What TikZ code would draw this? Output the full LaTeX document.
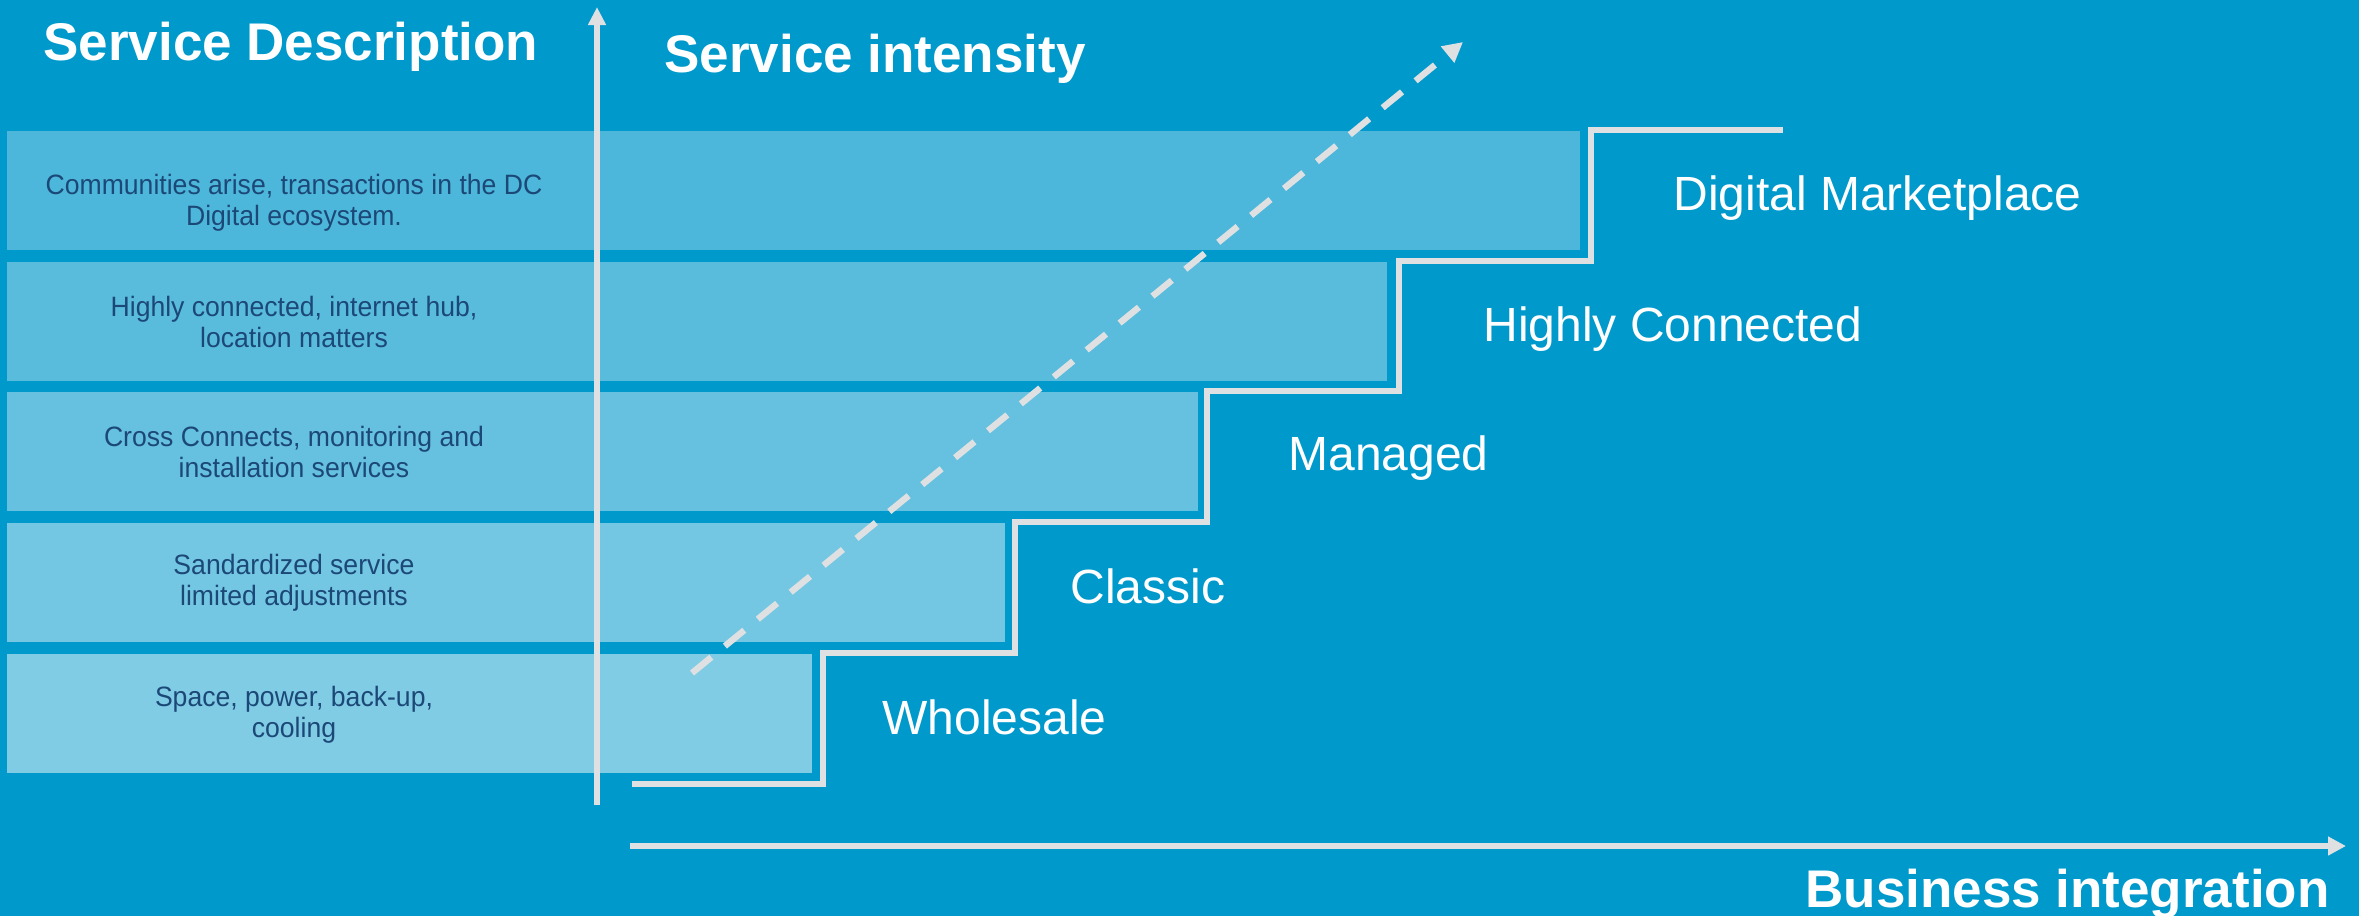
\documentclass[tikz,border=0pt]{standalone}
\usepackage{fontspec}
\setmainfont{Liberation Sans}
\newfontfamily\rowfont[FakeStretch=0.95]{Liberation Sans}
\usetikzlibrary{arrows.meta}
\definecolor{bg}{RGB}{0,153,204}
\definecolor{axisc}{RGB}{222,224,225}
\definecolor{navy}{RGB}{28,72,120}
\begin{document}
\begin{tikzpicture}[x=0.5pt,y=-0.5pt,
  rowbox/.style={fill=white, draw=none, inner sep=0pt, outer sep=0pt, anchor=north west, minimum height=59.5pt},
  desc/.style={font=\rowfont\fontsize{14}{15.5}\selectfont, text=navy, align=center, inner sep=0pt},
  title/.style={font=\bfseries\fontsize{26.5}{30}\selectfont, text=white, anchor=base west, inner sep=0pt},
  lvl/.style={font=\fontsize{24}{28}\selectfont, text=white, anchor=base west, inner sep=0pt},
  stair/.style={draw=axisc, line width=3pt, line join=miter},
  ]
\fill[bg] (0,0) rectangle (2359,916);
\useasboundingbox (0,0) rectangle (2359,916);

% rows
\node[rowbox, fill opacity=0.30, minimum width=786.5pt] (r1) at (7,131) {};
\node[rowbox, fill opacity=0.35, minimum width=690pt] (r2) at (7,262) {};
\node[rowbox, fill opacity=0.40, minimum width=595.5pt] (r3) at (7,392) {};
\node[rowbox, fill opacity=0.45, minimum width=499pt] (r4) at (7,523) {};
\node[rowbox, fill opacity=0.50, minimum width=402.5pt] (r5) at (7,654) {};

\node[desc] (t1) at (294,203) {Communities arise, transactions in the DC\\Digital ecosystem.};
\node[desc] (t2) at (294,322) {Highly connected, internet hub,\\location matters};
\node[desc] (t3) at (294,452) {Cross Connects, monitoring and\\installation services};
\node[desc] (t4) at (294,583) {Sandardized service\\limited adjustments};
\node[desc] (t5) at (294,715) {Space, power, back-up,\\cooling};

% staircase
\coordinate (s0) at (632,784);
\coordinate (s1) at (823,784);
\coordinate (s2) at (823,653);
\coordinate (s3) at (1015,653);
\coordinate (s4) at (1015,522);
\coordinate (s5) at (1207,522);
\coordinate (s6) at (1207,391);
\coordinate (s7) at (1399,391);
\coordinate (s8) at (1399,261);
\coordinate (s9) at (1591,261);
\coordinate (s10) at (1591,130);
\coordinate (s11) at (1783,130);
\draw[stair] (s0) -- (s1) -- (s2) -- (s3) -- (s4) -- (s5) -- (s6) -- (s7) -- (s8) -- (s9) -- (s10) -- (s11);

% axes
\coordinate (vb) at (597,805);
\coordinate (vt) at (597,7);
\draw[axisc, line width=3.2pt, -{Triangle[length=9pt,width=8.5pt]}] (vb) -- (vt);
\coordinate (hl) at (630,846);
\coordinate (hr) at (2346,846);
\draw[axisc, line width=3.2pt, -{Triangle[length=9pt,width=9pt]}] (hl) -- (hr);

% dashed arrow
\coordinate (d0) at (692,673);
\coordinate (d1) at (1463,42);
\draw[axisc, line width=3.2pt, dash pattern=on 12.5pt off 8.75pt, -{Triangle[length=10pt,width=10pt]}] (d0) -- (d1);

% level labels
\node[lvl] (l1) at (882,734) {Wholesale};
\node[lvl] (l2) at (1070,603) {Classic};
\node[lvl] (l3) at (1288,470) {Managed};
\node[lvl] (l4) at (1483,341) {Highly Connected};
\node[lvl] (l5) at (1673,210) {Digital Marketplace};

% titles
\node[title] (ht) at (43,60) {Service Description};
\node[title] (it) at (664,72) {Service intensity};
\node[title] (bt) at (1805,907) {Business integration};
\end{tikzpicture}
\end{document}
